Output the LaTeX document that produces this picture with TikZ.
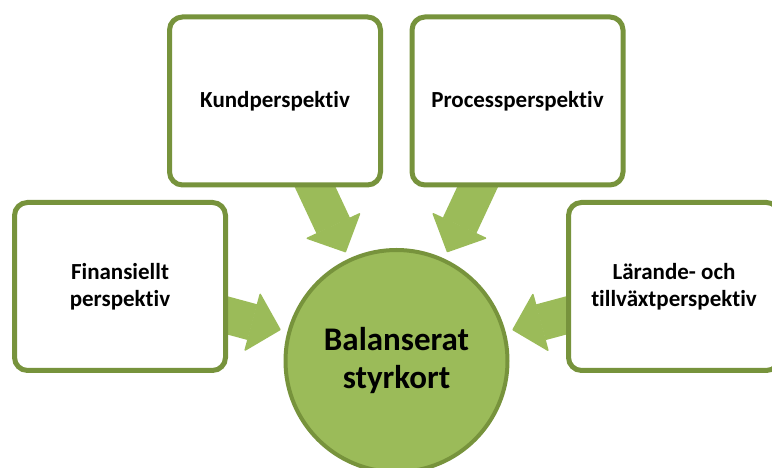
\documentclass[tikz,border=0pt]{standalone}
\usepackage{fontspec}
\setmainfont{Carlito}[Ligatures=NoCommon]
\usetikzlibrary{arrows.meta,backgrounds}
\definecolor{olivedark}{HTML}{77933C}
\definecolor{olivelight}{HTML}{9BBB59}
\tikzset{
  persp/.style={draw=olivedark, fill=white, line width=5pt, rounded corners=13pt,
    minimum width=211pt, minimum height=168pt, align=center,
    font=\bfseries\fontsize{23}{27}\selectfont},
  hub/.style={circle, draw=olivedark, fill=olivelight, line width=4pt,
    minimum size=222pt, align=center, font=\bfseries\fontsize{33}{38}\selectfont},
  blockarrow/.style={draw=olivelight, line width=37pt,
    -{Triangle[length=30pt,width=61pt,line width=1.5pt,round]},
    shorten >=7pt, shorten <=-15pt}
}
\begin{document}
\begin{tikzpicture}[x=1pt,y=1pt]
\clip (0,0) rectangle (772,468);
\node[hub] (bsc) at (396.5,107) {Balanserat\\styrkort};
\node[persp] (fin) at (120,181.5) {Finansiellt\\perspektiv};
\node[persp] (kund) at (275,367) {Kundperspektiv};
\node[persp] (proc) at (517.5,367) {Processperspektiv};
\node[persp] (lar) at (674,181.5) {Lärande- och\\tillväxtperspektiv};
% arrows towards the centre
\begin{scope}[on background layer]
\draw[blockarrow] (fin) -- (bsc);
\draw[blockarrow] (kund) -- (bsc);
\draw[blockarrow] (proc) -- (bsc);
\draw[blockarrow] (lar) -- (bsc);
\end{scope}
\end{tikzpicture}
\end{document}
